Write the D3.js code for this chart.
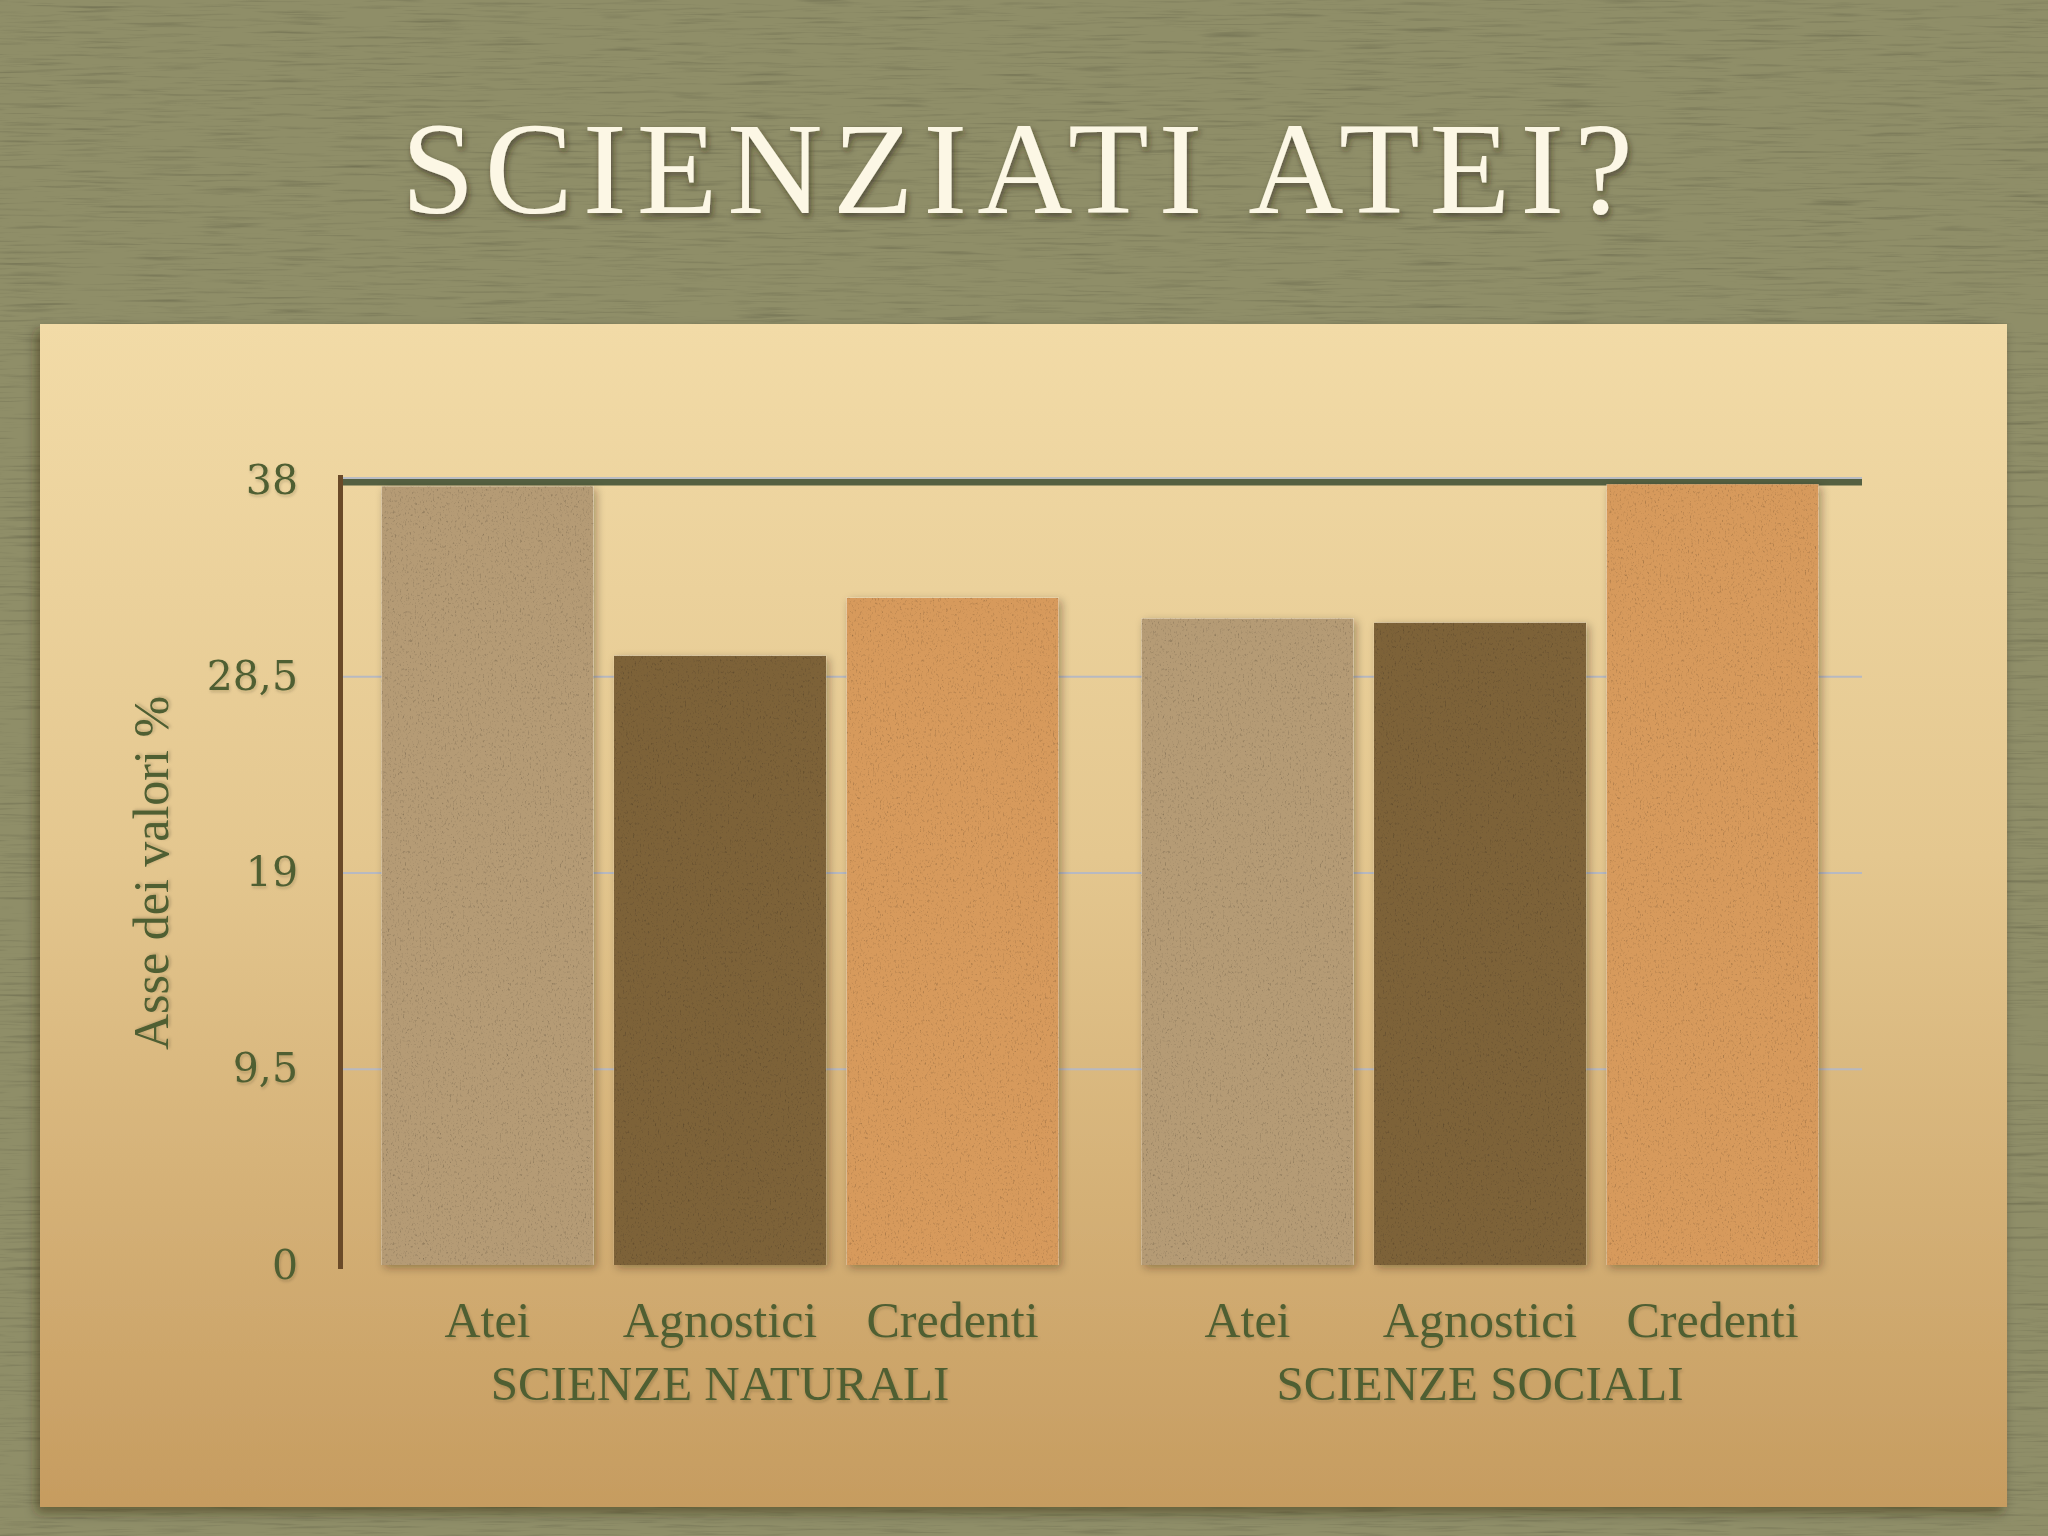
<!DOCTYPE html>
<html>
<head>
<meta charset="utf-8">
<script src="https://cdn.jsdelivr.net/npm/d3@7/dist/d3.min.js"></script>
<style>
  html, body { margin: 0; padding: 0; background: #8a8964; }
  svg { display: block; }
</style>
</head>
<body>
<script>
// ---- data ----
const groups = ["SCIENZE NATURALI", "SCIENZE SOCIALI"];
const categories = ["Atei", "Agnostici", "Credenti"];
const naturali = [37.7, 29.5, 32.3];
const sociali = [31.3, 31.1, 37.8];
const yTicks = [0, 9.5, 19, 28.5, 38];
const yTickLabels = ["0", "9,5", "19", "28,5", "38"];
const titleText = "SCIENZIATI ATEI?";
const yTitle = "Asse dei valori %";
const barColors = ["#b59b75", "#7d6239", "#d79a5c"];

const W = 2048, H = 1536;
const svg = d3.select("body").append("svg").attr("width", W).attr("height", H);
const defs = svg.append("defs");

function textureFilter(id, fx, fy, oct, seed, k, base) {
  const f = defs.append("filter").attr("id", id)
    .attr("x", 0).attr("y", 0).attr("width", "100%").attr("height", "100%")
    .attr("color-interpolation-filters", "sRGB");
  f.append("feTurbulence").attr("type", "fractalNoise")
    .attr("baseFrequency", fx + " " + fy).attr("numOctaves", oct).attr("seed", seed).attr("result", "n");
  const v = `${k} ${k} ${k} 0 ${base} ${k} ${k} ${k} 0 ${base} ${k} ${k} ${k} 0 ${base} 0 0 0 0 1`;
  f.append("feColorMatrix").attr("in", "n").attr("type", "matrix").attr("values", v).attr("result", "g");
  f.append("feBlend").attr("in", "SourceGraphic").attr("in2", "g").attr("mode", "multiply").attr("result", "b");
  f.append("feComposite").attr("in", "b").attr("in2", "SourceGraphic").attr("operator", "in");
}
textureFilter("bgtex", 0.015, 0.35, 3, 7, 0.2, 0.7);
textureFilter("bartex", 0.6, 0.35, 3, 11, 0.3, 0.58);

function shadow(id, dx, dy, sd, op) {
  const f = defs.append("filter").attr("id", id)
    .attr("x", "-10%").attr("y", "-10%").attr("width", "130%").attr("height", "130%");
  f.append("feDropShadow").attr("dx", dx).attr("dy", dy).attr("stdDeviation", sd)
    .attr("flood-color", "#2b2410").attr("flood-opacity", op);
}
shadow("panelShadow", -4, 6, 6, 0.45);
shadow("barShadow", 3, 3, 4, 0.35);
shadow("titleShadow", 2, 4, 3, 0.55);
shadow("textShadow", 1, 2, 1.5, 0.2);

const grad = defs.append("linearGradient").attr("id", "panelGrad")
  .attr("x1", 0).attr("y1", 0).attr("x2", 0).attr("y2", 1);
grad.append("stop").attr("offset", "0%").attr("stop-color", "#f2dba7");
grad.append("stop").attr("offset", "45%").attr("stop-color", "#e4c78f");
grad.append("stop").attr("offset", "100%").attr("stop-color", "#c69c60");

// background
svg.append("rect").attr("width", W).attr("height", H).attr("fill", "#8f8e68").attr("filter", "url(#bgtex)");

// title
svg.append("text").attr("x", 1022).attr("y", 213)
  .attr("text-anchor", "middle")
  .style("font-family", "'Liberation Serif', 'DejaVu Serif', serif")
  .style("font-size", "132px").style("letter-spacing", "10px")
  .attr("fill", "#fcf7e5").attr("filter", "url(#titleShadow)")
  .text(titleText);

// panel
svg.append("rect").attr("x", 40).attr("y", 324).attr("width", 1967).attr("height", 1183)
  .attr("fill", "url(#panelGrad)").attr("filter", "url(#panelShadow)");

// scales
const y = d3.scaleLinear().domain([0, 38]).range([1265, 480]);
const x0 = d3.scaleBand().domain(groups).range([340, 1860]);
const x1 = d3.scaleBand().domain(categories).range([0, x0.bandwidth()])
  .paddingInner(0.088).paddingOuter(0.178);

const serif = "'Liberation Serif', 'DejaVu Serif', serif";
const textCol = "#4f5e33";

// gridlines
const grid = svg.append("g").attr("transform", "translate(340,0)")
  .call(d3.axisLeft(y).tickValues(yTicks.slice(1)).tickSize(-1522).tickFormat(""));
grid.select(".domain").remove();
grid.selectAll("line").attr("stroke", "#b7b9c1").attr("stroke-width", 2);

// top line at max
svg.append("line").attr("x1", 340).attr("x2", 1862)
  .attr("y1", y(38) + 2).attr("y2", y(38) + 2)
  .attr("stroke", "#556041").attr("stroke-width", 7);
svg.append("line").attr("x1", 340).attr("x2", 1862)
  .attr("y1", y(38) - 2).attr("y2", y(38) - 2)
  .attr("stroke", "#b9bcc3").attr("stroke-width", 2);

// bars
const data = groups.map((g, gi) => ({ group: g, values: (gi === 0 ? naturali : sociali) }));
const barsG = svg.append("g").attr("filter", "url(#barShadow)");
data.forEach(d => {
  const g = barsG.append("g").attr("transform", `translate(${x0(d.group)},0)`);
  g.selectAll("rect").data(d.values.map((v, i) => ({ cat: categories[i], v, i })))
    .join("rect")
    .attr("x", e => x1(e.cat))
    .attr("width", x1.bandwidth())
    .attr("y", e => y(e.v))
    .attr("height", e => y(0) - y(e.v))
    .attr("fill", e => barColors[e.i])
    .attr("filter", "url(#bartex)");
});

// y axis line
svg.append("line").attr("x1", 340.5).attr("x2", 340.5).attr("y1", 475).attr("y2", 1269)
  .attr("stroke", "#6a4a28").attr("stroke-width", 5);
// bottom axis line
svg.append("line").attr("x1", 338).attr("x2", 1865).attr("y1", 1266).attr("y2", 1266)
  .attr("stroke", "#5d4226").attr("stroke-width", 6).attr("filter", "url(#barShadow)");

// y tick labels
const yAxis = svg.append("g").attr("transform", "translate(340,0)")
  .call(d3.axisLeft(y).tickValues(yTicks).tickSize(0).tickPadding(42)
    .tickFormat((d, i) => yTickLabels[i]));
yAxis.select(".domain").remove();
yAxis.selectAll("text")
  .style("font-family", "'DejaVu Serif', serif").style("font-size", "41px")
  .attr("fill", textCol).attr("filter", "url(#textShadow)");

// y title
svg.append("text").attr("transform", "translate(168,873) rotate(-90)")
  .attr("text-anchor", "middle")
  .style("font-family", serif).style("font-size", "50px")
  .attr("fill", textCol).attr("filter", "url(#textShadow)")
  .text(yTitle);

// category labels
groups.forEach(gname => {
  const ax = svg.append("g").attr("transform", `translate(${x0(gname)},1265)`)
    .call(d3.axisBottom(x1).tickSize(0).tickPadding(36));
  ax.select(".domain").remove();
  ax.selectAll("text")
    .style("font-family", serif).style("font-size", "50px")
    .attr("fill", textCol).attr("filter", "url(#textShadow)");
});

// group labels
const gAx = svg.append("g").attr("transform", "translate(0,1265)")
  .call(d3.axisBottom(x0).tickSize(0).tickPadding(100));
gAx.select(".domain").remove();
gAx.selectAll("text")
  .style("font-family", serif).style("font-size", "49px")
  .attr("fill", textCol).attr("filter", "url(#textShadow)");
</script>
</body>
</html>
